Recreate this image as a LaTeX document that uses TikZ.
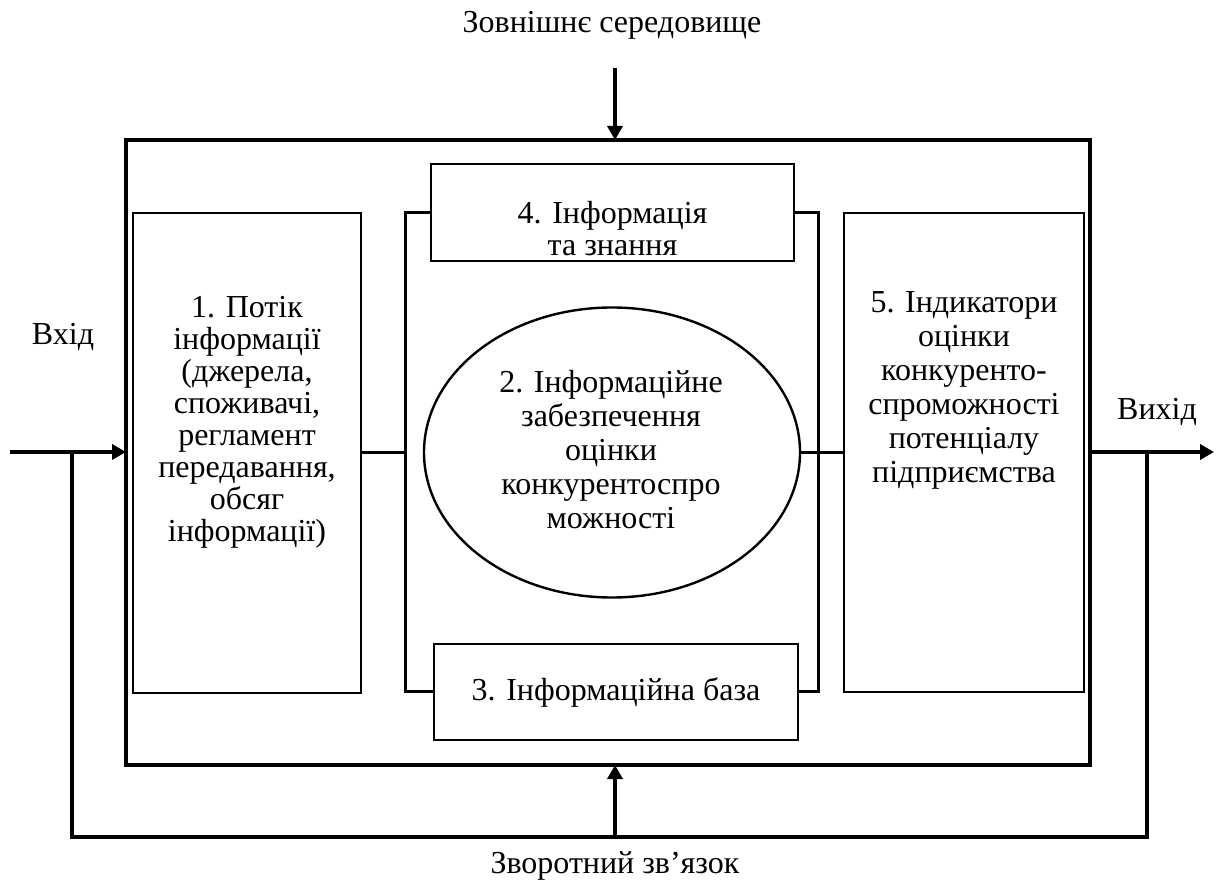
\documentclass[tikz,border=0pt]{standalone}
\usepackage{fontspec}
\setmainfont{Liberation Serif}
\usetikzlibrary{arrows.meta,shapes.geometric}
\begin{document}
\begin{tikzpicture}[x=0.5pt,y=-0.5pt,
 frame/.style={draw,line width=1.8pt,rectangle,inner sep=0,outer sep=0},
 box/.style={draw,line width=1pt,rectangle,inner sep=0,outer sep=0},
 oval/.style={draw,line width=1.2pt,ellipse,inner sep=0,outer sep=0},
 txt/.style={font=\fontsize{16}{16}\selectfont,align=center,inner sep=0},
 txtb/.style={font=\fontsize{16}{17}\selectfont,align=center,inner sep=0},
 bracket/.style={line width=1.5pt},
 link/.style={line width=1.5pt},
 arr/.style={line width=1.8pt,-{Triangle[length=7pt,width=7.5pt]}},
 fb/.style={line width=1.6pt}]
\useasboundingbox (0,0) rectangle (1216,881);

% frame and blocks
\node[frame,minimum width=482pt,minimum height=312.5pt] (frame) at (608,452.5) {};
\node[box,minimum width=114pt,minimum height=240pt] (b1) at (247,453) {};
\node[box,minimum width=181.5pt,minimum height=48.5pt] (b4) at (612.5,212.5) {};
\node[box,minimum width=182pt,minimum height=48pt] (b3) at (616,692) {};
\node[box,minimum width=120pt,minimum height=239.5pt] (b5) at (964,452.5) {};
\node[oval,minimum width=188pt,minimum height=145pt] (ell) at (612,452.5) {};

% texts
\node[txt] (t1) at (247,422.5) {1. Потік\\інформації\\(джерела,\\споживачі,\\регламент\\передавання,\\обсяг\\інформації)};
\node[txt] (t4) at (612.5,229) {4. Інформація\\та знання};
\node[txt] (t3) at (616,692) {3. Інформаційна база};
\node[txtb] (t2) at (611,450) {2. Інформаційне\\забезпечення\\оцінки\\конкурентоспро\\можності};
\node[txtb] (t5) at (964,390) {5. Індикатори\\оцінки\\конкуренто-\\спроможності\\потенціалу\\підприємства};
\node[txt] (env) at (612,25) {Зовнішнє середовище};
\node[txt] (fbt) at (615,866) {Зворотний зв’язок};
\node[txt] (inl) at (63,337) {Вхід};
\node[txt] (outl) at (1157,412) {Вихід};

% brackets and links
\coordinate (lb) at (405,453);
\coordinate (rb) at (818,453);
\draw[bracket] (b4.west) -| (lb) |- (b3.west);
\draw[bracket] (b4.east) -| (rb) |- (b3.east);
\draw[link] (b1.east) -- (lb);
\draw[link] (ell.east) -- (b5.west);

% input / output
\coordinate (in) at (10,452);
\coordinate (out) at (1214,452);
\draw[arr] (in) -- (in -| frame.west);
\draw[arr] (out -| frame.east) -- (out);

% environment arrow
\coordinate (envs) at (615,68);
\draw[arr] (envs) -- (envs |- frame.north);

% feedback loop
\coordinate (fl) at (72,452);
\coordinate (fr) at (1147,452);
\coordinate (fm) at (615,837);
\draw[fb] (fl) |- (fm) -| (fr);
\draw[arr] (fm) -- (fm |- frame.south);
\end{tikzpicture}
\end{document}
